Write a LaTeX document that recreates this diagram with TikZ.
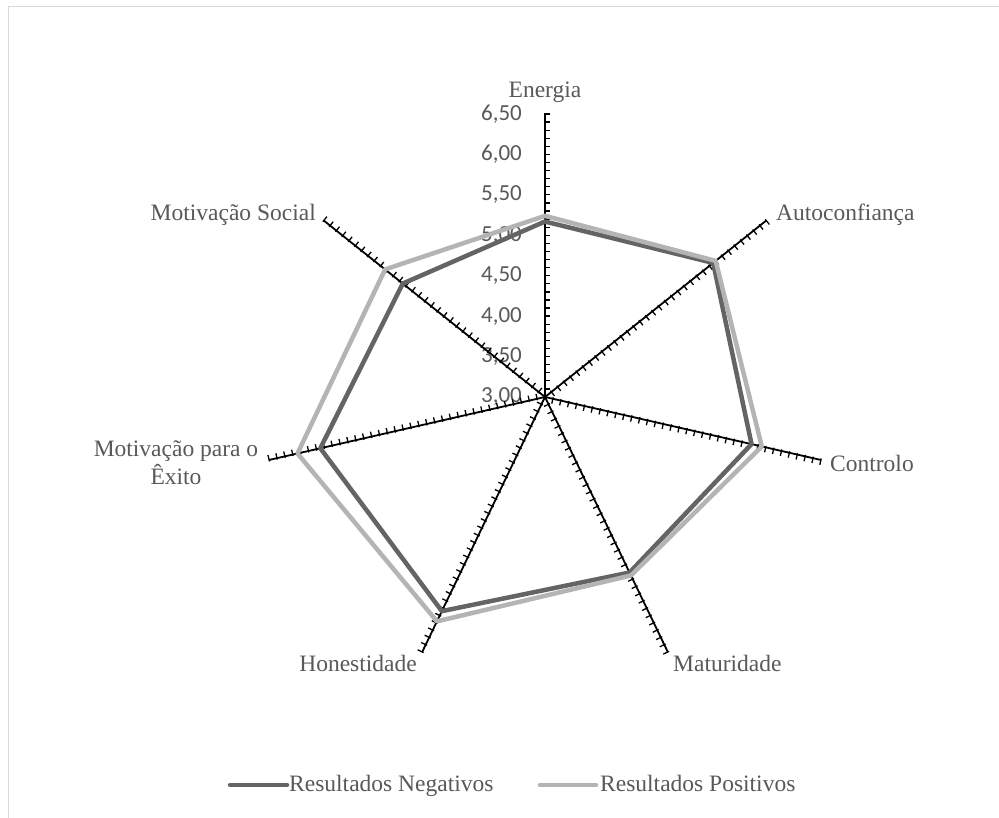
\documentclass[tikz,border=0pt]{standalone}
\usepackage{fontspec}
\setmainfont{Liberation Serif}
\newfontfamily\tickfont{Carlito}
\usetikzlibrary{calc}
\definecolor{negc}{HTML}{646464}
\definecolor{posc}{HTML}{B4B4B4}
\definecolor{txtc}{HTML}{595959}
\definecolor{framec}{HTML}{D9D9D9}
\begin{document}
\begin{tikzpicture}[x=1pt,y=1pt,
  axisline/.style={black, line width=1.8pt},
  tickmark/.style={black, line width=1.3pt},
  catlabel/.style={text=txtc, font=\fontsize{23.5}{28}\selectfont, inner sep=0pt},
  ticklabel/.style={text=txtc, font=\tickfont\fontsize{23}{28}\selectfont, inner sep=0pt, anchor=east},
  negline/.style={negc, line width=4.5pt, line join=round},
  posline/.style={posc, line width=4.5pt, line join=round},
  legline/.style={line width=4.5pt, line cap=round}]
\useasboundingbox (0,0) rectangle (999,818);
\fill[white] (0,0) rectangle (999,818);
\draw[framec, line width=1.5pt] (8.3,0) -- (8.3,811.5) -- (999,811.5);
\coordinate (C) at (545,421);
\def\R{283}
% tick labels
\foreach \k/\t in {0/{3,00},1/{3,50},2/{4,00},3/{4,50},4/{5,00},5/{5,50},6/{6,00},7/{6,50}} {
  \node[ticklabel] (T\k) at ($(C)+(-23,{\k*\R/7})$) {\t};
}
% axes
\foreach \i in {0,...,6} {
  \pgfmathsetmacro{\a}{90-\i*360/7}
  \coordinate (A\i) at ($(C)+(\a:\R)$);
  \draw[axisline] (C) -- (A\i);
  \foreach \k in {1,...,35} {
    \pgfmathsetmacro{\rr}{\k*\R/35}
    \draw[tickmark] ($(C)+(\a:\rr)+(\a+90:1.5)$) -- ($(C)+(\a:\rr)+(\a-90:5)$);
  }
}
% data
\foreach \v [count=\j from 0] in {5.17,5.66,5.62,5.41,5.94,5.85,5.25} {
  \pgfmathsetmacro{\a}{90-\j*360/7}
  \pgfmathsetmacro{\rr}{(\v-3)*\R/3.5}
  \coordinate (N\j) at ($(C)+(\a:\rr)$);
}
\foreach \v [count=\j from 0] in {5.24,5.70,5.75,5.45,6.08,6.14,5.53} {
  \pgfmathsetmacro{\a}{90-\j*360/7}
  \pgfmathsetmacro{\rr}{(\v-3)*\R/3.5}
  \coordinate (P\j) at ($(C)+(\a:\rr)$);
}
\draw[negline] (N0) -- (N1) -- (N2) -- (N3) -- (N4) -- (N5) -- (N6) -- cycle;
\draw[posline] (P0) -- (P1) -- (P2) -- (P3) -- (P4) -- (P5) -- (P6) -- cycle;
% category labels
\node[catlabel] (L0) at (545,726) {Energia};
\node[catlabel, anchor=west] (L1) at (776,603) {Autoconfiança};
\node[catlabel, anchor=west] (L2) at (830,355) {Controlo};
\node[catlabel, anchor=west] (L3) at (673,155) {Maturidade};
\node[catlabel, anchor=east] (L4) at (417,155) {Honestidade};
\node[catlabel, align=center] (L5) at (176,355) {Motivação para o\\Êxito};
\node[catlabel, anchor=east] (L6) at (316,603) {Motivação Social};
% legend
\coordinate (G1a) at (230,33);
\coordinate (G1b) at (287,33);
\coordinate (G2a) at (540,33);
\coordinate (G2b) at (596,33);
\draw[legline, negc] (G1a) -- (G1b);
\draw[legline, posc] (G2a) -- (G2b);
\node[catlabel, anchor=base west] (K1) at (289,26) {Resultados Negativos};
\node[catlabel, anchor=base west] (K2) at (600,26) {Resultados Positivos};
\end{tikzpicture}
\end{document}
